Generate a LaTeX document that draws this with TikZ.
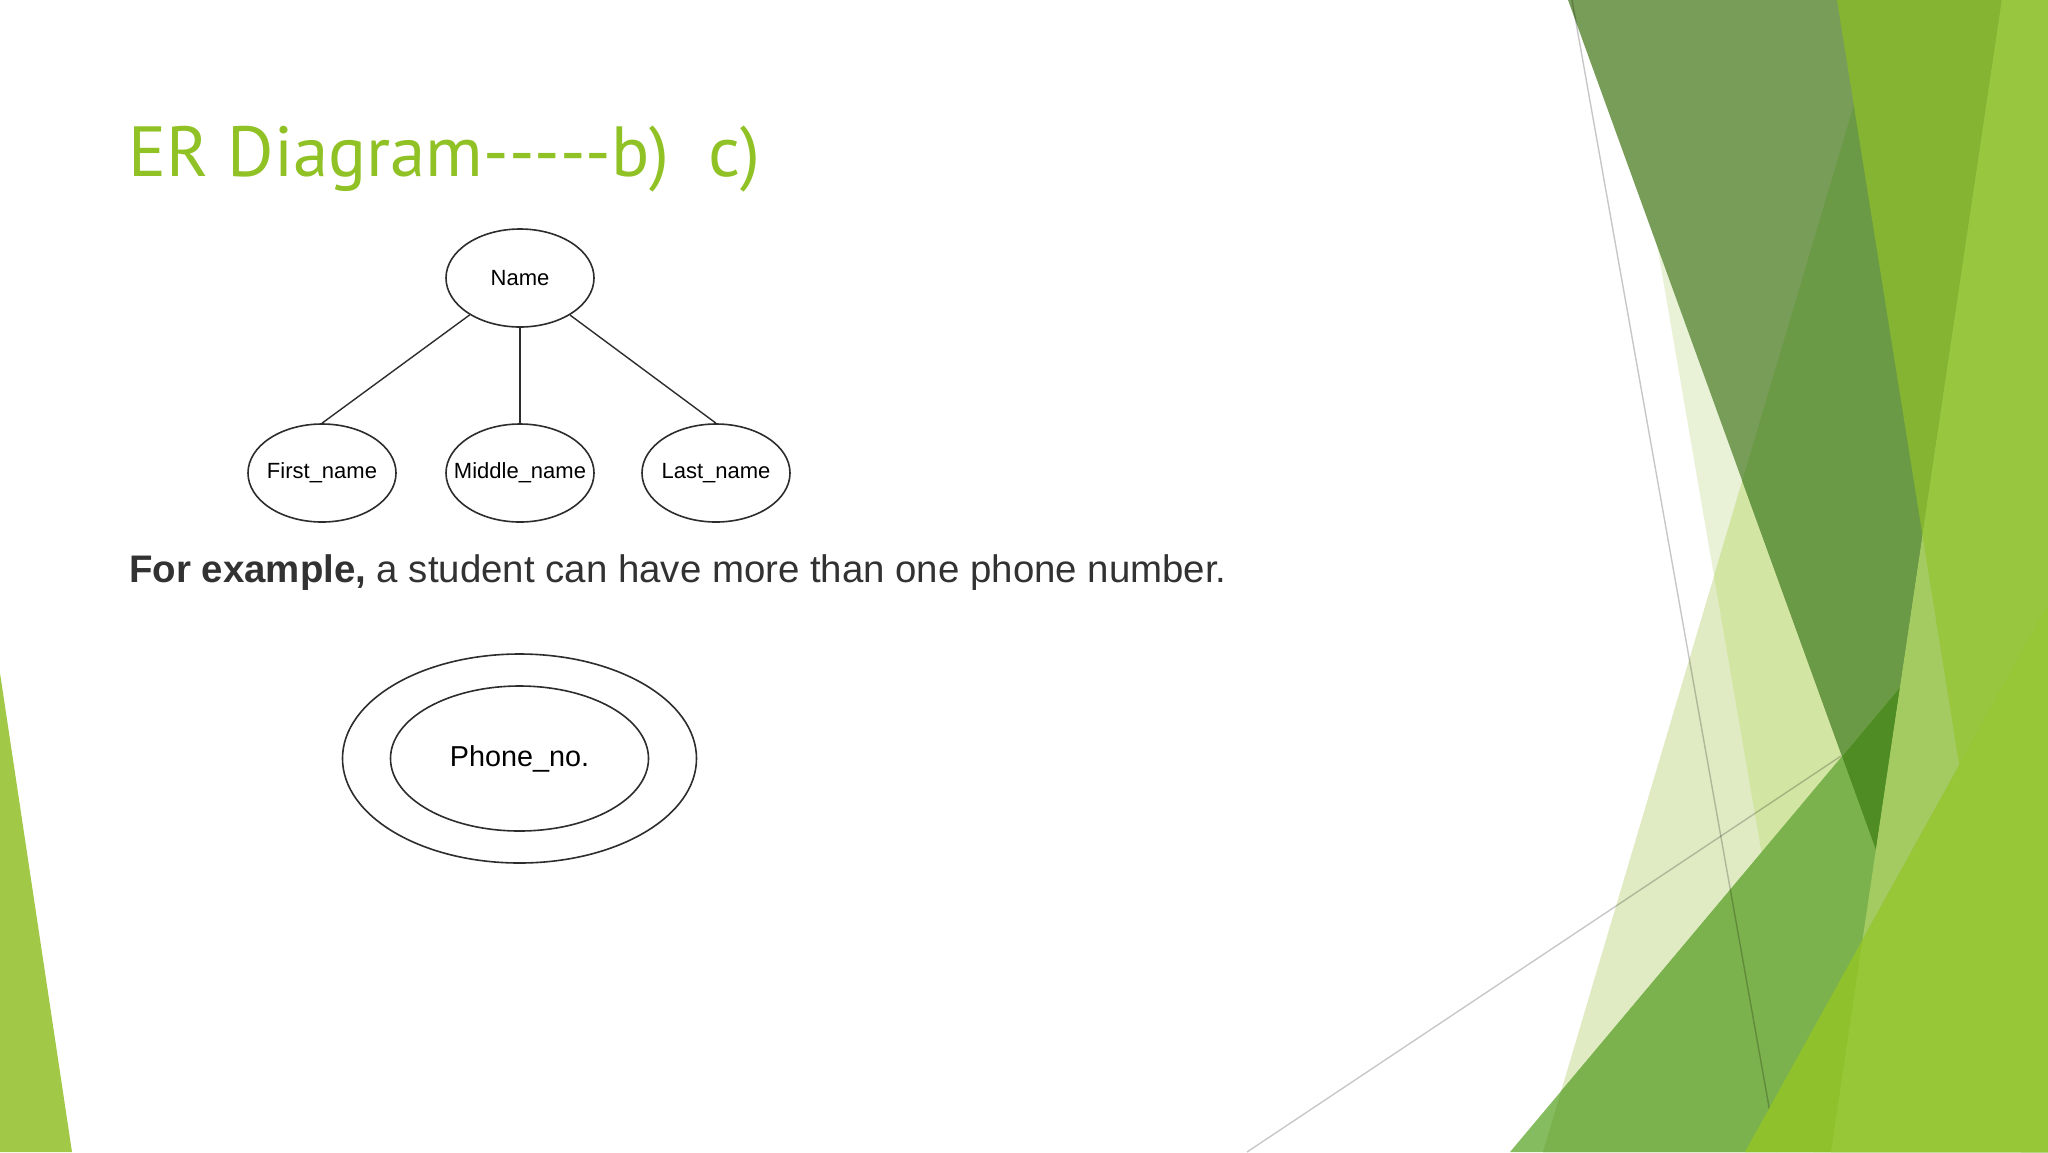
\documentclass[tikz,border=0pt]{standalone}
\usepackage{fontspec}
\setmainfont{Liberation Sans}
\newfontfamily\titlefont{PT Sans}
\usetikzlibrary{shapes.geometric}

\definecolor{titlegreen}{RGB}{144,194,38}
\definecolor{bodytext}{RGB}{50,50,50}
\definecolor{edgegray}{RGB}{45,45,45}
\definecolor{leftlime}{RGB}{161,200,70}
\definecolor{paleA}{RGB}{233,242,215}
\definecolor{paleB}{RGB}{224,235,195}
\definecolor{paleAB}{RGB}{211,229,163}
\definecolor{olive}{RGB}{120,157,88}
\definecolor{oliveB}{RGB}{106,154,69}
\definecolor{darkleaf}{RGB}{79,141,36}
\definecolor{midgreen}{RGB}{133,188,96}
\definecolor{midgreenB}{RGB}{124,178,77}
\definecolor{limegreen}{RGB}{132,180,50}
\definecolor{palelime}{RGB}{163,203,98}
\definecolor{lightlime}{RGB}{152,198,62}
\definecolor{brightlime}{RGB}{143,193,45}
\definecolor{brightlimeL}{RGB}{151,198,55}

\newcommand\dsh{\mbox{-}}

\tikzset{
  attr/.style={draw=edgegray, line width=0.8pt, ellipse, inner sep=0pt,
    minimum width=74pt, minimum height=49pt,
    label={[attrtext]center:#1}},
  attrtext/.style={inner sep=0pt, font=\fontsize{11}{13}\selectfont},
  link/.style={draw=edgegray, line width=0.7pt},
  thinline/.style={draw=black, opacity=0.22, line width=0.7pt},
}

\begin{document}
\begin{tikzpicture}[x=0.5pt,y=0.5pt,yscale=-1,xscale=1]
    \useasboundingbox (0,0) rectangle (2048,1152);
    \fill[white] (0,0) rectangle (2048,1152);

    % Facet shapes, right side
    \fill[paleA] (1615,0) -- (1813,1152) -- (2048,1152) -- (2048,0) -- cycle;
    \fill[paleB] (1885,0) -- (1543,1152) -- (2048,1152) -- (2048,0) -- cycle;
    \begin{scope}
      \clip (1615,0) -- (1813,1152) -- (2048,1152) -- (2048,0) -- cycle;
      \fill[paleAB] (1885,0) -- (1543,1152) -- (2048,1152) -- (2048,0) -- cycle;
    \end{scope}
    % Straight Lines
    \draw[thinline] (1247,1152) -- (1841,756);
    % Triangle
    \fill[olive] (1568,0) -- (2002,0) -- (1876,850) -- cycle;
    \begin{scope}
      \clip (1568,0) -- (2002,0) -- (1876,850) -- cycle;
      \fill[oliveB] (1885,0) -- (1543,1152) -- (2048,1152) -- (2048,0) -- cycle;
    \end{scope}
    % Triangle
    \fill[midgreen] (1510,1152) -- (2048,511) -- (2048,1152) -- cycle;
    \begin{scope}
      \clip (1510,1152) -- (2048,511) -- (2048,1152) -- cycle;
      \fill[midgreenB] (1885,0) -- (1543,1152) -- (2048,1152) -- (2048,0) -- cycle;
      \fill[darkleaf] (1568,0) -- (2002,0) -- (1876,850) -- cycle;
    \end{scope}
    % Straight Lines
    \draw[thinline] (1572,0) -- (1777,1152);
    % Band
    \fill[limegreen] (1837,0) -- (2021,1152) -- (2048,1152) -- (2048,0) -- cycle;
    \fill[palelime] (2002,0) -- (1831,1152) -- (2048,1152) -- (2048,0) -- cycle;
    \begin{scope}
      \clip (2002,0) -- (1831,1152) -- (2048,1152) -- (2048,0) -- cycle;
      \fill[lightlime] (1837,0) -- (2021,1152) -- (2048,1152) -- (2048,0) -- cycle;
    \end{scope}
    % Triangle
    \fill[brightlime] (1745,1152) -- (2048,605) -- (2048,1152) -- cycle;
    \begin{scope}
      \clip (1745,1152) -- (2048,605) -- (2048,1152) -- cycle;
      \fill[brightlimeL] (2002,0) -- (1831,1152) -- (2048,1152) -- (2048,0) -- cycle;
    \end{scope}

    % Facet shape, left side
    \fill[leftlime] (0,673) -- (72,1152) -- (0,1152) -- cycle;

    % Text Nodes
    \node[anchor=base west, inner sep=0pt, text=titlegreen, font=\titlefont\fontsize{35.5}{42}\selectfont] (title) at (128,176) {ER Diagram\dsh\dsh\dsh\dsh\dsh b)\hspace{0.55em}c)};
    \node[anchor=base west, inner sep=0pt, text=bodytext, font=\fontsize{19.2}{23}\selectfont] (example) at (129,582) {\textbf{For example,} a student can have more than one phone number.};

    % Ellipses
    \node[attr=Name] (name) at (520,278) {};
    \node[attr={First\_name}] (first) at (322,473) {};
    \node[attr={Middle\_name}] (middle) at (520,473) {};
    \node[attr={Last\_name}] (last) at (716,473) {};

    % Straight Lines
    \draw[link] (name) -- (first.north);
    \draw[link] (name) -- (middle.north);
    \draw[link] (name) -- (last.north);

    % Multivalued attribute
    \node[ellipse, draw=edgegray, line width=0.8pt, inner sep=0pt, minimum width=177pt, minimum height=104.5pt] (phoneouter) at (519.5,758.5) {};
    \node[ellipse, draw=edgegray, line width=0.8pt, inner sep=0pt, minimum width=129pt, minimum height=72.5pt, font=\fontsize{14.4}{16}\selectfont] (phone) at (519.5,758.5) {Phone\_no.};
\end{tikzpicture}
\end{document}
